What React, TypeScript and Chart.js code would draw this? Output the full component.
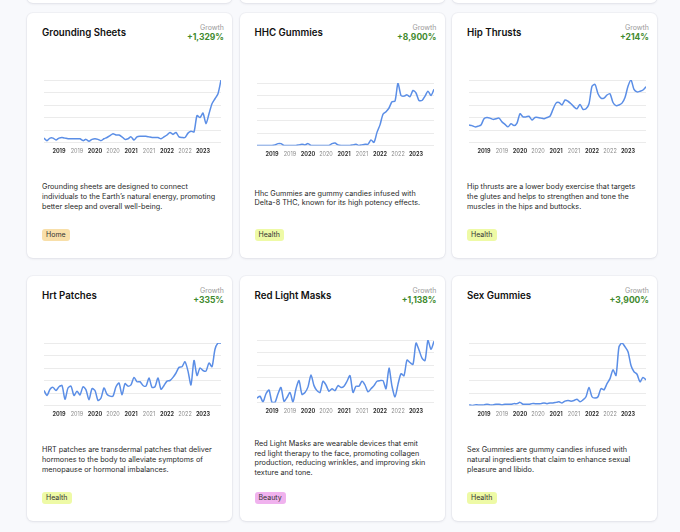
import React, { useEffect, useRef } from "react";
import { Chart, registerables } from "chart.js";

Chart.register(...registerables);

const months = [
  "2018-08", "2018-09", "2018-10", "2018-11", "2018-12",
  "2019-01", "2019-02", "2019-03", "2019-04", "2019-05", "2019-06", "2019-07", "2019-08", "2019-09", "2019-10", "2019-11", "2019-12",
  "2020-01", "2020-02", "2020-03", "2020-04", "2020-05", "2020-06", "2020-07", "2020-08", "2020-09", "2020-10", "2020-11", "2020-12",
  "2021-01", "2021-02", "2021-03", "2021-04", "2021-05", "2021-06", "2021-07", "2021-08", "2021-09", "2021-10", "2021-11", "2021-12",
  "2022-01", "2022-02", "2022-03", "2022-04", "2022-05", "2022-06", "2022-07", "2022-08", "2022-09", "2022-10", "2022-11", "2022-12",
  "2023-01", "2023-02", "2023-03", "2023-04", "2023-05", "2023-06", "2023-07",
];

const groundingSheets = [7, 3, 7, 7, 4, 7, 8, 7, 6, 6, 6, 6, 6, 3, 5, 2, 5, 6, 5, 3, 6, 8, 11, 14, 12, 12, 9, 5, 6, 9, 4, 9, 10, 10, 10, 9, 8, 8, 8, 6, 9, 12, 16, 13, 16, 9, 8, 8, 15, 18, 17, 43, 40, 47, 30, 46, 62, 70, 78, 100];
const hhcGummies = [0, 0, 0, 0, 0, 0, 1, 3, 3, 0, 0, 0, 0, 0, 1, 2, 1, 3, 0, 0, 0, 0, 0, 0, 0, 3, 4, 1, 0, 0, 0, 0, 1, 2, 0, 1, 2, 2, 9, 5, 21, 33, 50, 54, 60, 70, 71, 100, 80, 79, 81, 78, 88, 84, 72, 72, 79, 87, 80, 90];
const hipThrusts = [28, 27, 25, 26, 28, 38, 40, 39, 37, 38, 39, 33, 29, 25, 30, 27, 31, 46, 41, 41, 42, 36, 40, 40, 39, 38, 40, 42, 53, 63, 64, 60, 68, 66, 62, 57, 54, 61, 53, 54, 62, 90, 93, 78, 71, 71, 76, 78, 64, 59, 60, 63, 72, 90, 100, 85, 81, 82, 84, 89];
const hrtPatches = [24, 16, 26, 29, 24, 30, 32, 10, 28, 31, 16, 23, 17, 30, 25, 9, 27, 24, 8, 12, 28, 18, 15, 15, 30, 36, 17, 35, 31, 33, 45, 38, 38, 32, 31, 44, 29, 30, 44, 26, 32, 39, 40, 45, 52, 61, 62, 70, 55, 33, 72, 48, 60, 56, 55, 68, 62, 90, 100, 100];
const redLightMasks = [7, 10, 1, 14, 20, 0, 0, 14, 24, 2, 8, 16, 1, 22, 35, 13, 16, 25, 44, 27, 19, 16, 34, 28, 18, 22, 19, 27, 24, 26, 34, 43, 16, 26, 26, 34, 28, 17, 22, 27, 34, 35, 35, 22, 55, 26, 9, 29, 46, 43, 68, 64, 61, 95, 84, 71, 67, 100, 85, 98];
const sexGummies = [1, 0, 1, 1, 1, 1, 2, 1, 1, 2, 2, 1, 2, 2, 2, 3, 3, 5, 2, 2, 2, 3, 3, 3, 3, 4, 3, 4, 4, 5, 6, 4, 7, 8, 7, 8, 10, 6, 9, 14, 29, 14, 12, 14, 27, 25, 35, 43, 57, 48, 94, 100, 94, 86, 64, 54, 50, 38, 45, 41];

const titles = ["Grounding Sheets", "HHC Gummies", "Hip Thrusts", "Hrt Patches", "Red Light Masks", "Sex Gummies"];
const growths = ["+1,329%", "+8,900%", "+214%", "+335%", "+1,138%", "+3,900%"];
const seriesList = [groundingSheets, hhcGummies, hipThrusts, hrtPatches, redLightMasks, sexGummies];
const descriptions = [
  ["Grounding sheets are designed to connect", "individuals to the Earth\u2019s natural energy, promoting", "better sleep and overall well-being."],
  ["Hhc Gummies are gummy candies infused with", "Delta-8 THC, known for its high potency effects."],
  ["Hip thrusts are a lower body exercise that targets", "the glutes and helps to strengthen and tone the", "muscles in the hips and buttocks."],
  ["HRT patches are transdermal patches that deliver", "hormones to the body to alleviate symptoms of", "menopause or hormonal imbalances."],
  ["Red Light Masks are wearable devices that emit", "red light therapy to the face, promoting collagen", "production, reducing wrinkles, and improving skin", "texture and tone."],
  ["Sex Gummies are gummy candies infused with", "natural ingredients that claim to enhance sexual", "pleasure and libido."],
];
const tags = ["Home", "Health", "Health", "Health", "Beauty", "Health"];
const tagColors: Record<string, string> = { Home: "#f8dfa9", Health: "#eefaa6", Beauty: "#f0b2ee" };

const FONT = "Inter, 'Noto Sans', sans-serif";

function MiniChart({ values }: { values: number[] }) {
  const ref = useRef<HTMLCanvasElement | null>(null);
  useEffect(() => {
    if (!ref.current) return;
    const chart = new Chart(ref.current, {
      type: "line",
      data: {
        labels: months,
        datasets: [
          {
            data: values,
            borderColor: "#5b8ee6",
            borderWidth: 1.5,
            pointRadius: 0,
            tension: 0.25,
            fill: false,
          },
        ],
      },
      options: {
        animation: false,
        responsive: false,
        devicePixelRatio: 1,
        layout: { padding: { top: 4, left: 0, right: 0, bottom: 0 } },
        plugins: { legend: { display: false }, tooltip: { enabled: false } },
        scales: {
          x: {
            afterFit: (s: any) => {
              s.height = 11.5;
              s.paddingLeft = 0;
              s.paddingRight = 0;
            },
            grid: { display: false, drawTicks: false },
            border: { display: false },
            ticks: {
              autoSkip: false,
              maxRotation: 0,
              padding: 5.5,
              font: (ctx: any) => {
                const m = months[ctx.index] || "";
                return { family: FONT, size: 5.5, weight: m.endsWith("-01") ? "bold" : "normal" };
              },
              color: (ctx: any) => {
                const m = months[ctx.index] || "";
                return m.endsWith("-01") ? "#333333" : "#8a8a8a";
              },
              callback: (_v: any, i: number) => {
                const m = months[i];
                if (i === months.length - 1) return "";
                if (m.endsWith("-01") || m.endsWith("-07")) return m.slice(0, 4);
                return "";
              },
            },
          },
          y: {
            afterFit: (s: any) => {
              s.width = 0;
            },
            min: 0,
            max: 100,
            ticks: { display: false, stepSize: 20 },
            grid: { color: "#ebebeb", drawTicks: false, lineWidth: 1 },
            border: { display: false },
          },
        },
      },
    } as any);
    return () => chart.destroy();
  }, [values]);
  return <canvas ref={ref} width={177} height={78} style={{ width: 177, height: 78, display: "block" }} />;
}

function Card({ idx, left, top }: { idx: number; left: number; top: number }) {
  return (
    <div
      style={{
        position: "absolute",
        left,
        top,
        width: 205,
        height: 245,
        background: "#ffffff",
        borderRadius: 6,
        boxShadow: "0 1px 3px rgba(20,20,60,0.08), 0 0 0 1px rgba(20,20,60,0.03)",
        display: "flex",
        flexDirection: "column",
        justifyContent: "space-between",
        padding: "10px 0 17px 0",
        boxSizing: "border-box",
        fontFamily: FONT,
      }}
    >
      <div style={{ height: 22, position: "relative" }}>
        <div
          style={{
            position: "absolute",
            left: 15,
            top: 4,
            fontSize: 9.7,
            fontWeight: 600,
            color: "#111",
            lineHeight: "12px",
            whiteSpace: "nowrap",
          }}
        >
          {titles[idx]}
        </div>
        <div style={{ position: "absolute", right: 8, top: 0, textAlign: "right" }}>
          <div style={{ fontSize: 7, color: "#9a9a9a", lineHeight: "9px" }}>Growth</div>
          <div style={{ fontSize: 8.5, fontWeight: 700, color: "#3f8a2e", lineHeight: "11px" }}>{growths[idx]}</div>
        </div>
      </div>
      <div style={{ marginTop: 13, marginLeft: 17, height: 78 }}>
        <MiniChart values={seriesList[idx]} />
      </div>
      <div
        style={{
          marginTop: 11,
          marginLeft: 15,
          fontSize: 7.25,
          lineHeight: "9.6px",
          color: "#2a2a2a",
          whiteSpace: "nowrap",
        }}
      >
        {descriptions[idx].map((l, k) => (
          <div key={k}>{l}</div>
        ))}
      </div>
      <div style={{ marginLeft: 15, height: 12, display: "flex" }}>
        <div
          style={{
            height: 12,
            lineHeight: "12px",
            padding: "0 4px",
            borderRadius: 3,
            background: tagColors[tags[idx]],
            fontSize: 7,
            color: "#333",
          }}
        >
          {tags[idx]}
        </div>
      </div>
    </div>
  );
}

export default function App() {
  const lefts = [27, 239.5, 452];
  const tops = [13, 276];
  return (
    <div
      style={{
        position: "fixed",
        left: 0,
        top: 0,
        width: 680,
        height: 532,
        background: "#f8f9fc",
        overflow: "hidden",
      }}
    >
      {lefts.map((l, c) => (
        <div
          key={"above" + c}
          style={{
            position: "absolute",
            left: l,
            top: -240,
            width: 205,
            height: 243,
            background: "#fff",
            borderRadius: 6,
            boxShadow: "0 1px 3px rgba(20,20,60,0.08), 0 0 0 1px rgba(20,20,60,0.03)",
          }}
        />
      ))}
      {tops.map((t, r) =>
        lefts.map((l, c) => <Card key={r * 3 + c} idx={r * 3 + c} left={l} top={t} />)
      )}
    </div>
  );
}
